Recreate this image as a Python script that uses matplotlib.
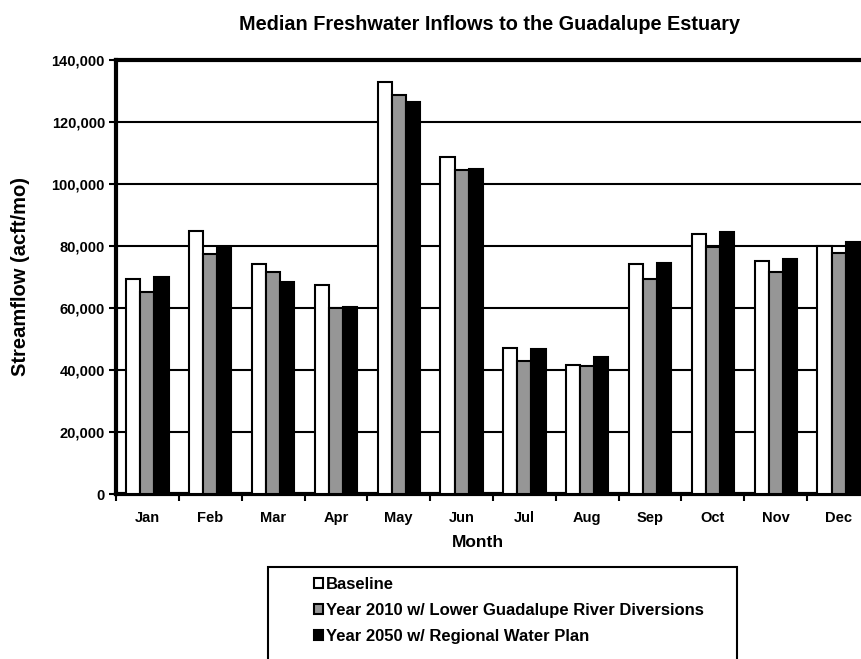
import matplotlib
matplotlib.use("Agg")
import matplotlib.pyplot as plt
from matplotlib.patches import Rectangle
import numpy as np

plt.rcParams['font.family'] = ['Liberation Sans', 'DejaVu Sans']
plt.rcParams['font.weight'] = 'bold'

months = ["Jan", "Feb", "Mar", "Apr", "May", "Jun", "Jul", "Aug", "Sep", "Oct", "Nov", "Dec"]
baseline = [69500, 84800, 74300, 67400, 132900, 108700, 47100, 41600, 74200, 84000, 75400, 80000]
year2010 = [65200, 77500, 71600, 60000, 128700, 104600, 42800, 41400, 69400, 79800, 71600, 77800]
year2050 = [70200, 79600, 68600, 60500, 126600, 104900, 46700, 44200, 74600, 84500, 76000, 81500]
series_names = ["Baseline",
                "Year 2010 w/ Lower Guadalupe River Diversions",
                "Year 2050 w/ Regional Water Plan"]
colors = ["#ffffff", "#969696", "#000000"]
yticks = [0, 20000, 40000, 60000, 80000, 100000, 120000, 140000]

W, H = 862, 659
fig = plt.figure(figsize=(W / 100, H / 100), dpi=100)
ax = fig.add_axes([116 / W, 1 - 494 / H, 754 / W, (494 - 60.5) / H])

x = np.arange(len(months))
bw = 0.225
bars = []
for i, (vals, c) in enumerate(zip([baseline, year2010, year2050], colors)):
    b = ax.bar(x + (i - 1) * bw, vals, width=bw, color=c, edgecolor="black",
               linewidth=1.5, zorder=3, label=series_names[i])
    bars.append(b)

ax.set_xlim(-0.5, len(months) - 0.5)
ax.set_ylim(0, 140000)
ax.set_yticks(yticks)
ax.set_yticklabels([f"{v:,}" for v in yticks])
ax.yaxis.grid(True, color="black", linewidth=1.5, zorder=0)
ax.set_axisbelow(True)

ax.set_xticks(np.arange(-0.5, len(months), 1.0))
ax.set_xticklabels([])
ax.set_xticks(x, minor=True)
ax.set_xticklabels(months, minor=True)
ax.tick_params(axis="x", which="major", length=5, width=1.5, direction="out")
ax.tick_params(axis="x", which="minor", length=0, pad=12, labelsize=10.5)
ax.tick_params(axis="y", length=5, width=1.5, direction="out", labelsize=10.5, pad=3)

for s in ["left", "bottom", "top"]:
    ax.spines[s].set_linewidth(3)
ax.spines["right"].set_visible(False)

ax.set_ylabel("Streamflow (acft/mo)", fontsize=14.5, fontweight="bold")
ax.yaxis.set_label_coords(30 / W, 1 - 276 / H, transform=fig.transFigure)
ax.set_xlabel("Month", fontsize=12.5, fontweight="bold")
ax.xaxis.set_label_coords(478 / W, 1 - 535 / H, transform=fig.transFigure)
fig.text(490 / W, 1 - 24 / H, "Median Freshwater Inflows to the Guadalupe Estuary",
         ha="center", va="center", fontsize=14.3, fontweight="bold")

# legend box
fig.patches.append(Rectangle((268 / W, -0.02), (737 - 268) / W, (1 - 567 / H) + 0.02,
                             transform=fig.transFigure, facecolor="white",
                             edgecolor="black", linewidth=1.5))
leg = fig.legend(handles=bars, labels=series_names, loc="upper left",
                 bbox_to_anchor=(299 / W, 1 - 562 / H), frameon=False,
                 fontsize=12, handlelength=0.55, handleheight=0.55,
                 handletextpad=0.15, labelspacing=0.67)
for t in leg.get_texts():
    t.set_fontweight("bold")

fig.savefig("out.png", dpi=100)
